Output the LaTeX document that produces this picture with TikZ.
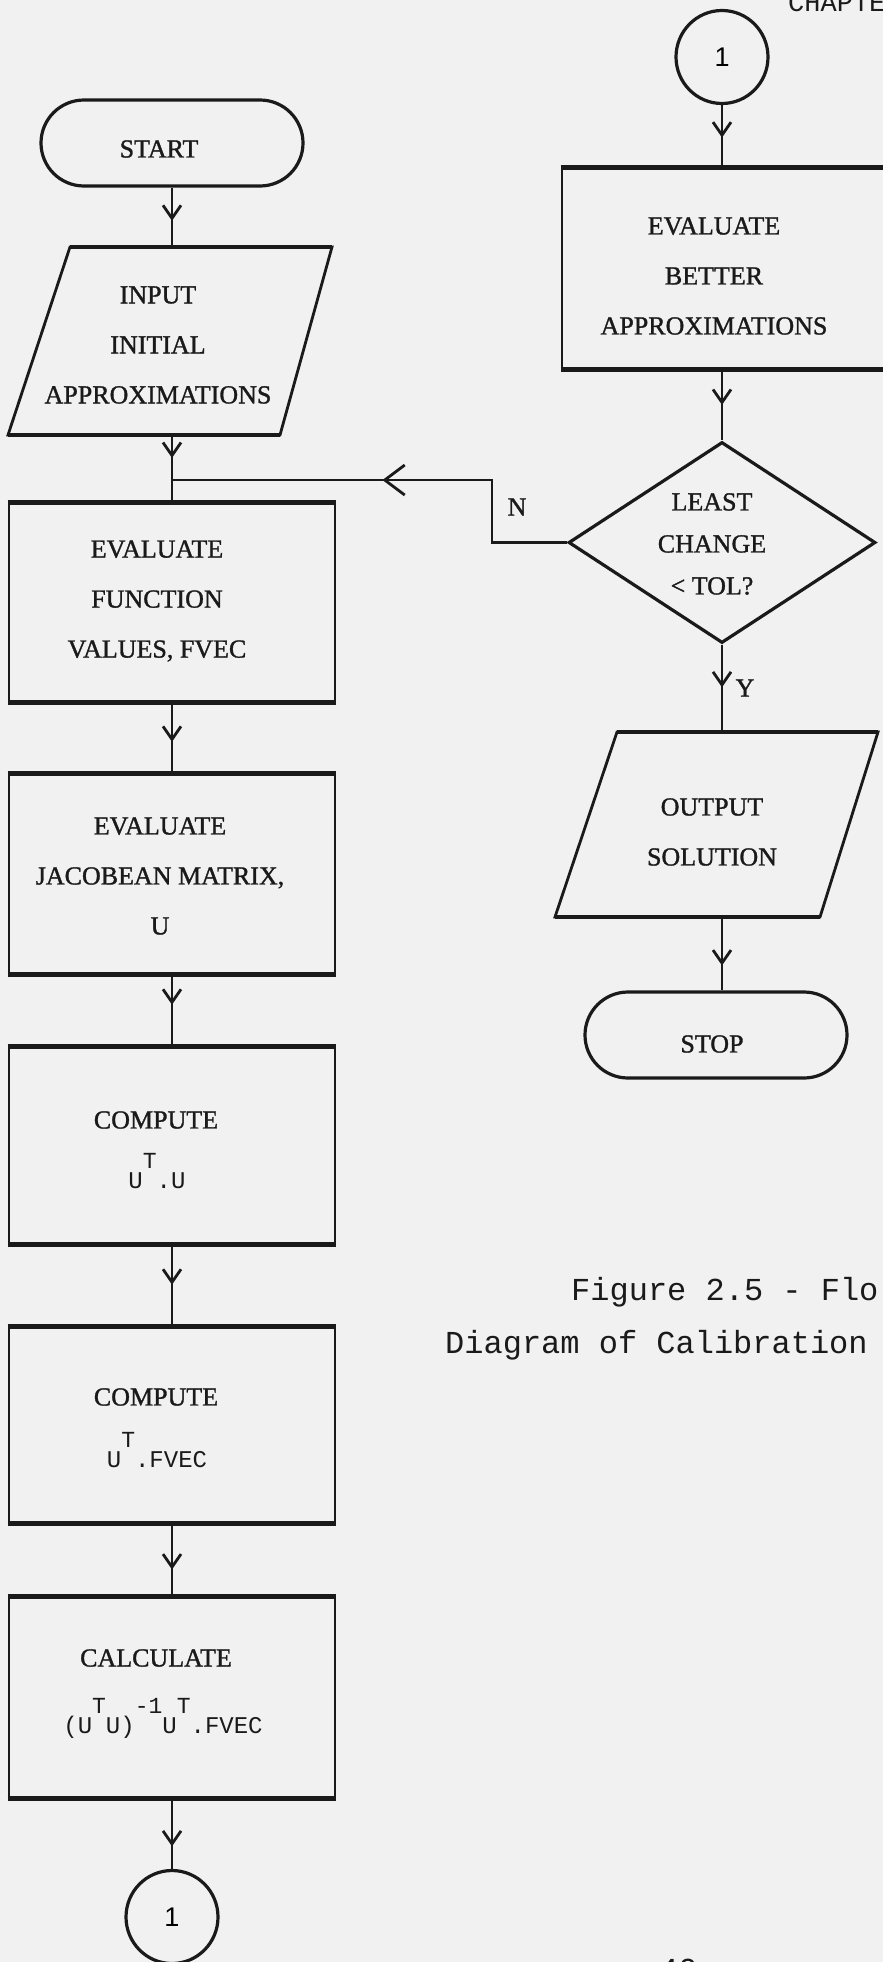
\documentclass[tikz,border=0pt]{standalone}
\usepackage{fontspec}
\setmainfont[FakeBold=1.2]{Liberation Serif}
\newfontfamily\typefont{Liberation Mono}
\newfontfamily\digitfont{Liberation Sans}
\usetikzlibrary{arrows.meta,decorations.markings,shapes.geometric}

\definecolor{paper}{RGB}{241,241,241}
\definecolor{inkc}{RGB}{26,26,26}

% text sizes (1pt = 1 unit of the picture)
\newcommand{\lblfont}{\fontsize{26}{50}\selectfont}
\newcommand{\decfont}{\fontsize{26}{42}\selectfont}
\newcommand{\formfont}{\typefont\fontsize{24}{30}\selectfont}
\newcommand{\capfont}{\typefont\fontsize{32}{53}\selectfont}
\newcommand{\hi}[1]{\raisebox{20pt}{\fontsize{23}{23}\selectfont #1}}

\tikzset{
  ink/.style={draw=inkc, line width=2.8pt},
  heavy/.style={draw=inkc, line width=4.6pt},
  term/.style={ink, line width=3.2pt, rectangle, rounded corners=43pt,
    minimum width=262pt, minimum height=86pt, inner sep=0pt},
  procbox/.style={ink, rectangle, inner sep=0pt, minimum width=326pt,
    minimum height=198pt},
  iobox/.style={rectangle, inner sep=0pt, minimum width=324pt,
    minimum height=188pt},
  decision/.style={ink, line width=3.2pt, diamond, inner sep=0pt,
    minimum width=307pt, minimum height=201pt},
  connect/.style={ellipse, ink, line width=3.2pt, inner sep=0pt,
    minimum width=92pt, minimum height=93pt,
    font=\digitfont\fontsize{27}{27}\selectfont},
  lbl/.style={inner sep=0pt, align=center, font=\lblfont, text=inkc},
  declbl/.style={inner sep=0pt, align=center, font=\decfont, text=inkc},
  formlbl/.style={inner sep=0pt, align=center, font=\formfont, text=inkc},
  flow/.style={draw=inkc, line width=2.6pt, postaction={decorate},
    decoration={markings, mark=at position #1 with
      {\arrow{Straight Barb[length=13pt,width=18pt,line width=2.8pt]}}}},
  flow/.default=0.55,
  loopflow/.style={draw=inkc, line width=2.8pt, postaction={decorate},
    decoration={markings, mark=at position #1 with
      {\arrow{Straight Barb[length=20pt,width=30pt,line width=2.8pt]}}}},
}

\begin{document}
\begin{tikzpicture}[x=1pt,y=-1pt]
\fill[paper] (0,0) rectangle (883,1962);
\useasboundingbox (0,0) rectangle (883,1962);

% page header, caption and page number
\node[anchor=base west, inner sep=0pt, text=inkc, font=\typefont\fontsize{27}{27}\selectfont] (hdr) at (788,12) {CHAPTE};
\node[anchor=base west, inner sep=0pt, text=inkc, font=\capfont] (cap1) at (571,1300) {Figure 2.5 - Flo};
\node[anchor=base west, inner sep=0pt, text=inkc, font=\capfont] (cap2) at (445,1353) {Diagram of Calibration};
\node[anchor=base west, inner sep=0pt, text=inkc, font=\capfont] (pgno) at (659,1980) {40};

% ---------------- left column ----------------
\node[term] (start) at (172,143) {};
\node[lbl] (startT) at (159,149) {START};

\draw[ink] (70,247) -- (332,247) -- (280,435) -- (8,435) -- cycle;
\draw[heavy] (70,247) -- (332,247) (280,435) -- (8,435);
\node[iobox] (inp) at (172,341) {};
\node[lbl] (inpT) at (158,345) {INPUT\\INITIAL\\APPROXIMATIONS};

\node[procbox] (fvec) at (172,602.5) {};
\node[lbl] (fvecT) at (157,601) {EVALUATE\\FUNCTION\\VALUES, FVEC};

\node[procbox] (jac) at (172,874) {};
\node[lbl] (jacT) at (160,876) {EVALUATE\\JACOBEAN MATRIX,\\U};

\node[procbox, minimum height=195pt] (utu) at (172,1145.5) {};
\node[lbl] (utuT) at (156,1120) {COMPUTE};
\node[formlbl] (utuF) at (157,1171) {U\hi{T}.U};

\node[procbox, minimum height=194pt] (utf) at (172,1425) {};
\node[lbl] (utfT) at (156,1397) {COMPUTE};
\node[formlbl] (utfF) at (157,1450) {U\hi{T}.FVEC};

\node[procbox, minimum height=199pt] (calc) at (172,1697.5) {};
\node[lbl] (calcT) at (156,1658) {CALCULATE};
\node[formlbl] (calcF) at (163,1718) {(U\hi{T}U)\hi{-1}U\hi{T}.FVEC};

\node[connect] (endc) at (172,1917) {1};

\draw[flow=0.56] (start.south) -- (start.south |- inp.north);
\coordinate (join) at (172,480);
\draw[flow=0.34] (inp.south) -- (fvec.north);
\draw[flow=0.55] (fvec.south) -- (jac.north);
\draw[flow=0.42] (jac.south) -- (utu.north);
\draw[flow=0.49] (utu.south) -- (utf.north);
\draw[flow=0.63] (utf.south) -- (calc.north);
\draw[flow=0.68] (calc.south) -- (endc.north);

% ---------------- right column ----------------
\node[connect] (topc) at (722,57) {1};

\node[procbox, minimum width=324pt, minimum height=199pt] (better) at (724,268.5) {};
\node[lbl] (betterT) at (714,276) {EVALUATE\\BETTER\\APPROXIMATIONS};

\node[decision] (dec) at (722,542.5) {};
\node[declbl] (decT) at (712,544) {LEAST\\CHANGE\\< TOL?};

\draw[ink] (617,732) -- (878,732) -- (820,917) -- (555,917) -- cycle;
\draw[heavy] (617,732) -- (878,732) (820,917) -- (555,917);
\node[iobox, minimum width=323pt, minimum height=185pt] (out) at (717,824.5) {};
\node[lbl] (outT) at (712,832) {OUTPUT\\SOLUTION};

\node[term] (stop) at (716,1035) {};
\node[lbl] (stopT) at (712,1044) {STOP};

\draw[flow=0.52] (topc.south) -- (topc.south |- better.north);
\draw[flow=0.5] (topc.south |- better.south) -- (dec.north);
\draw[flow=0.49] (dec.south) -- (dec.south |- out.north);
\draw[flow=0.66] (dec.south |- out.south) -- (dec.south |- stop.north);

% heavier top and bottom edges of the process boxes
\foreach \b in {fvec,jac,utu,utf,calc,better}
  \draw[heavy] (\b.north west) -- (\b.north east) (\b.south west) -- (\b.south east);

% the "no" branch returns to the left column
\coordinate (nturn) at (492,480);
\draw[loopflow=0.54] (dec.west) -| (nturn) -- (join);
\node[lbl] (nlab) at (517,507) {N};
\node[lbl] (ylab) at (745,688) {Y};
\end{tikzpicture}
\end{document}
